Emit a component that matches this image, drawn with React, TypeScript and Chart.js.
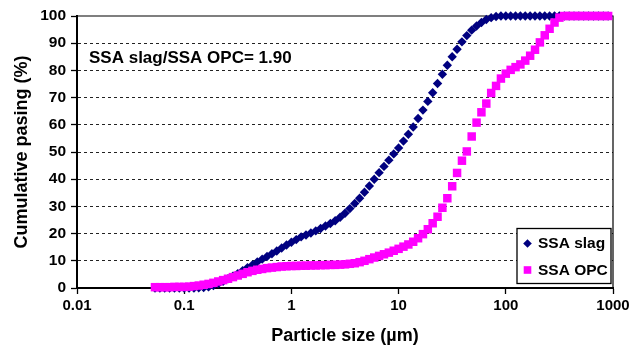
import React, { useEffect, useRef } from "react";
import { Chart, registerables } from "chart.js";

Chart.register(...registerables);

// Particle sizes (µm)
const sizes = [
  0.0534, 0.0593, 0.0658, 0.073, 0.0811, 0.0901,
  0.1, 0.111, 0.1233, 0.1368, 0.1519, 0.1687, 0.1873, 0.2079, 0.2308, 0.2562, 0.2848,
  0.3162, 0.3511, 0.3899, 0.4329, 0.4806, 0.5337, 0.5925, 0.6579, 0.7304, 0.8111, 0.9006,
  1, 1.11, 1.233, 1.368, 1.519, 1.687, 1.873, 2.079, 2.308, 2.562, 2.848,
  3.162, 3.511, 3.899, 4.329, 4.806, 5.337, 5.925, 6.579, 7.304, 8.111, 9.006,
  10, 11.1, 12.33, 13.68, 15.19, 16.87, 18.73, 20.79, 23.08, 25.62, 28.48,
  31.62, 35.11, 38.99, 43.29, 48.06, 53.37, 59.25, 65.79, 73.04, 81.11, 90.06,
  100, 111, 123.3, 136.8, 151.9, 168.7, 187.3, 207.9, 230.8, 256.2, 284.8,
  316.2, 351.1, 389.9, 432.9, 480.6, 533.7, 592.5, 657.9, 730.4, 811.1, 900.6,
];

// Cumulative passing (%) - SSA slag
const slagPassing = [
  0, 0, 0, 0, 0, 0,
  0, 0, 0, 0.1, 0.2, 0.4, 0.9, 1.6, 2.5, 3.4, 4.3,
  5.3, 6.4, 7.5, 8.5, 9.6, 10.6, 11.6, 12.6, 13.6, 14.7, 15.8,
  16.8, 17.8, 18.8, 19.5, 20.2, 21.0, 21.9, 22.8, 23.7, 24.7, 26.0,
  27.5, 29.2, 31.1, 33.0, 35.2, 37.5, 40.0, 42.4, 44.7, 47.0, 49.3,
  51.5, 54.0, 56.5, 59.2, 62.3, 65.4, 68.6, 71.8, 75.2, 78.6, 81.9,
  85.0, 87.8, 90.5, 92.8, 94.8, 96.3, 97.6, 98.7, 99.4, 99.8, 100,
  100, 100, 100, 100, 100, 100, 100, 100, 100, 100, 100,
  100, 100, 100, 100, 100, 100, 100, 100, 100, 100, 100,
];

// Cumulative passing (%) - SSA OPC
const opcPassing = [
  0.3, 0.3, 0.3, 0.3, 0.4, 0.4,
  0.4, 0.5, 0.7, 0.9, 1.2, 1.5, 1.9, 2.4, 2.9, 3.4, 4.0,
  4.6, 5.2, 5.8, 6.3, 6.7, 7.0, 7.3, 7.5, 7.7, 7.9, 8.0,
  8.1, 8.1, 8.2, 8.2, 8.3, 8.3, 8.4, 8.4, 8.5, 8.5, 8.6,
  8.7, 8.9, 9.1, 9.5, 10.0, 10.6, 11.2, 11.8, 12.4, 13.0, 13.7,
  14.4, 15.2, 16.0, 17.0, 18.3, 19.8, 21.6, 23.8, 26.2, 29.5, 33.0,
  37.4, 42.3, 46.8, 50.2, 55.7, 60.8, 64.6, 67.8, 71.7, 74.3, 77.0,
  78.8, 80.2, 81.2, 82.2, 83.6, 85.4, 87.6, 90.3, 92.9, 95.3, 97.6,
  99.4, 100, 100, 100, 100, 100, 100, 100, 100, 100, 100,
];

const xTickValues = [0.01, 0.1, 1, 10, 100, 1000];
const xTickLabels = ["0.01", "0.1", "1", "10", "100", "1000"];
const seriesNames = ["SSA slag", "SSA OPC"];
const annotationText = "SSA slag/SSA OPC= 1.90";
const xTitle = "Particle size (µm)";
const yTitle = "Cumulative pasing (%)";

const SLAG_COLOR = "#000080";
const OPC_COLOR = "#FF00FF";
const FONT = "'Liberation Sans', Arial, sans-serif";

const framePlugin = {
  id: "frame",
  beforeDatasetsDraw(chart: any) {
    const { ctx, chartArea } = chart;
    ctx.save();
    ctx.strokeStyle = "#000";
    ctx.lineWidth = 1.2;
    ctx.beginPath();
    ctx.moveTo(chartArea.left, chartArea.top);
    ctx.lineTo(chartArea.right, chartArea.top);
    ctx.lineTo(chartArea.right, chartArea.bottom);
    ctx.stroke();
    ctx.restore();
  },
  afterDraw(chart: any) {
    const { ctx } = chart;
    ctx.save();
    // annotation
    ctx.fillStyle = "#000";
    ctx.font = `bold 17px ${FONT}`;
    ctx.textBaseline = "alphabetic";
    ctx.textAlign = "left";
    ctx.fillText(annotationText, 89, 63);

    // legend
    const bx = 517, by = 228.5, bw = 94, bh = 55;
    ctx.fillStyle = "#fff";
    ctx.fillRect(bx, by, bw, bh);
    ctx.strokeStyle = "#000";
    ctx.lineWidth = 1.3;
    ctx.strokeRect(bx, by, bw, bh);

    // diamond
    const dx = 527.5, dy = 243.5, r = 4.3;
    ctx.fillStyle = SLAG_COLOR;
    ctx.beginPath();
    ctx.moveTo(dx - r, dy);
    ctx.lineTo(dx, dy - r);
    ctx.lineTo(dx + r, dy);
    ctx.lineTo(dx, dy + r);
    ctx.closePath();
    ctx.fill();
    // square
    ctx.fillStyle = OPC_COLOR;
    ctx.fillRect(527.5 - 3.8, 270 - 3.8, 7.6, 7.6);

    ctx.fillStyle = "#000";
    ctx.font = `bold 15.5px ${FONT}`;
    ctx.textBaseline = "middle";
    ctx.fillText(seriesNames[0], 538, 244);
    ctx.fillText(seriesNames[1], 538, 270.5);
    ctx.restore();
  },
};

export default function App() {
  const ref = useRef<HTMLCanvasElement | null>(null);

  useEffect(() => {
    if (!ref.current) return;
    const chart = new Chart(ref.current, {
      type: "scatter",
      data: {
        datasets: [
          {
            label: seriesNames[0],
            data: sizes.map((s, i) => ({ x: s, y: slagPassing[i] })),
            pointStyle: "rectRot",
            pointRadius: 4.7,
            pointBorderWidth: 0,
            backgroundColor: SLAG_COLOR,
            borderColor: SLAG_COLOR,
            showLine: false,
            clip: false,
            order: 1,
          },
          {
            label: seriesNames[1],
            data: sizes.map((s, i) => ({ x: s, y: opcPassing[i] })),
            pointStyle: "rect",
            pointRadius: 6,
            pointBorderWidth: 0,
            backgroundColor: OPC_COLOR,
            borderColor: OPC_COLOR,
            showLine: false,
            clip: false,
            order: 0,
          },
        ],
      },
      options: {
        responsive: false,
        animation: false,
        layout: { padding: { top: 16, right: 28, left: 0, bottom: 0 } },
        plugins: { legend: { display: false }, tooltip: { enabled: false } },
        scales: {
          x: {
            type: "logarithmic",
            position: "bottom",
            min: 0.01,
            max: 1000,
            afterBuildTicks: (scale: any) => {
              scale.ticks = xTickValues.map((v) => ({ value: v }));
            },
            afterFit: (scale: any) => {
              scale.height = 62;
            },
            ticks: {
              autoSkip: false,
              maxRotation: 0,
              color: "#000",
              padding: 3,
              font: { family: FONT, size: 15, weight: "bold" },
              callback: (value: any) => {
                const idx = xTickValues.findIndex((v) => Math.abs(v - Number(value)) < v * 1e-6);
                return idx >= 0 ? xTickLabels[idx] : "";
              },
            },
            grid: {
              drawOnChartArea: false,
              drawTicks: true,
              tickLength: 6,
              tickColor: "#000",
              tickWidth: 1.3,
            },
            border: { display: true, color: "#000", width: 2 },
            title: {
              display: true,
              text: xTitle,
              color: "#000",
              font: { family: FONT, size: 18, weight: "bold" },
              padding: { top: 0, bottom: 3 },
            },
          },
          y: {
            min: 0,
            max: 100,
            afterFit: (scale: any) => {
              scale.width = 77;
            },
            ticks: {
              stepSize: 10,
              color: "#000",
              padding: 5,
              font: { family: FONT, size: 15.5, weight: "bold" },
            },
            grid: {
              color: (c: any) =>
                c.tick && (c.tick.value === 0 || c.tick.value === 100) ? "rgba(0,0,0,0)" : "#222",
              lineWidth: 1,
              tickLength: 6,
              tickColor: "#000",
              tickWidth: 1.3,
            },
            border: { display: true, color: "#000", width: 2, dash: [3, 3] },
            title: {
              display: true,
              text: yTitle,
              color: "#000",
              font: { family: FONT, size: 18, weight: "bold" },
              padding: { top: 11, bottom: 0 },
            },
          },
        },
      },
      plugins: [framePlugin],
    } as any);
    return () => chart.destroy();
  }, []);

  return (
    <div style={{ position: "fixed", left: 0, top: 0, width: 641, height: 350, background: "#fff" }}>
      <canvas ref={ref} width={641} height={350} style={{ display: "block" }} />
    </div>
  );
}
